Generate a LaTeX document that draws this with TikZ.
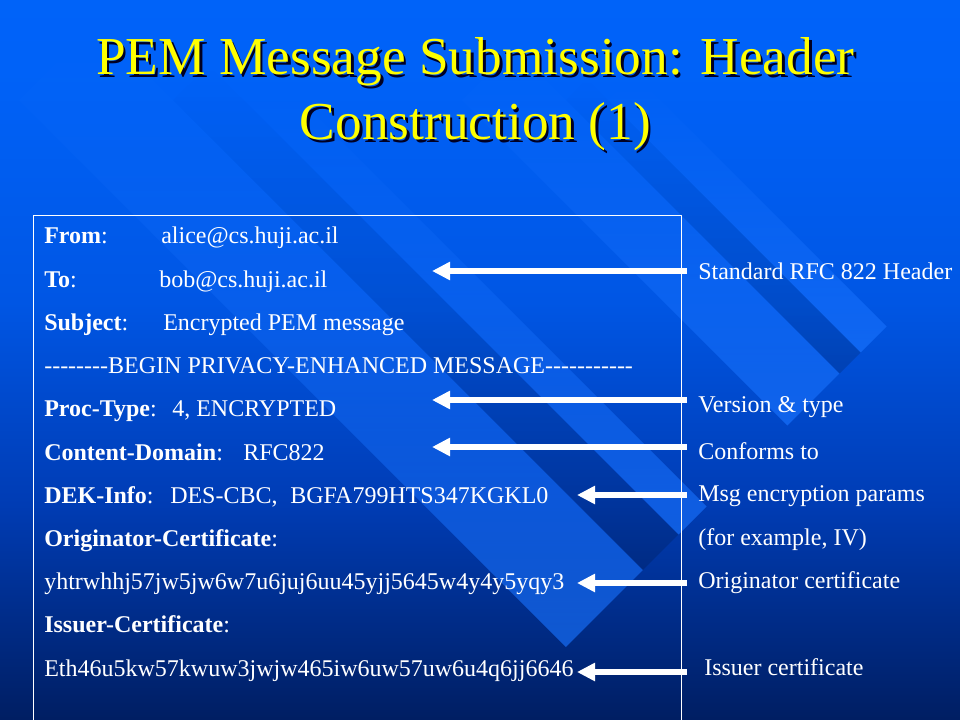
\documentclass[tikz,border=0pt]{standalone}
\usepackage{fontspec}
\setmainfont{Liberation Serif}[Ligatures=TeXOff]
\usetikzlibrary{arrows.meta,fadings}
\definecolor{bgtop}{RGB}{0,102,255}
\definecolor{bgupper}{RGB}{0,98,248}
\definecolor{bgmid}{RGB}{0,86,228}
\definecolor{bglow}{RGB}{0,60,180}
\definecolor{bgdeep}{RGB}{0,24,82}
\definecolor{bgnight}{RGB}{0,8,30}
\definecolor{bgbot}{RGB}{0,1,8}
\definecolor{bandblue}{RGB}{25,115,255}
\definecolor{ttlyellow}{RGB}{255,255,0}
\definecolor{ttldark}{RGB}{0,0,35}
\pgfdeclareverticalshading{slidebg}{100bp}{color(0bp)=(bgbot); color(9bp)=(bgnight); color(22bp)=(bgdeep); color(40bp)=(bglow); color(54bp)=(bgmid); color(70bp)=(bgupper); color(100bp)=(bgtop)}
\tikzfading[name=bandfade, top color=transparent!100, middle color=transparent!50, bottom color=transparent!0]
\newcommand\shadowtitle[1]{\rlap{\hspace{1.9pt}\raisebox{-1.9pt}{\textcolor{ttldark}{#1}}}#1}
\begin{document}
\begin{tikzpicture}[x=0.75pt, y=-0.75pt, line join=round, >={Triangle[length=13.5pt,width=13pt]},
	txt/.style={anchor=base west, inner sep=0pt, text=white, font=\fontsize{18}{21.6}\selectfont},
	lab/.style={anchor=base west, inner xsep=8.25pt, inner ysep=0pt, text=white, font=\fontsize{18}{21.6}\selectfont},
	ttl/.style={anchor=base, inner sep=0pt, text=ttlyellow, font=\fontsize{40}{48}\selectfont},
	arr/.style={->, white, line width=4.5pt}]
		\useasboundingbox (0,0) rectangle (960,720);
		\shade[shading=slidebg] (0,0) rectangle (960,720);
		\def\send{1213}
		\foreach \ca/\cb in {-81/73, 144/200, 362/466, 508/560}{
			\pgfmathsetmacro\stop{200+\ca}
			\fill[bandblue, fill opacity=0.65, path fading=bandfade] ({(\stop+\ca)/2},{(\stop-\ca)/2}) -- ({(\send+\ca)/2},{(\send-\ca)/2}) -- ({(\send+\cb)/2},{(\send-\cb)/2}) -- ({(\stop+\cb)/2},{(\stop-\cb)/2}) -- cycle;}
		\foreach \ca/\cb in {73/144, 466/508}{
			\pgfmathsetmacro\stop{200+\ca}
			\fill[black, fill opacity=0.15, path fading=bandfade] ({(\stop+\ca)/2},{(\stop-\ca)/2}) -- ({(\send+\ca)/2},{(\send-\ca)/2}) -- ({(\send+\cb)/2},{(\send-\cb)/2}) -- ({(\stop+\cb)/2},{(\stop-\cb)/2}) -- cycle;}
		\node[ttl] (title1) at (475.5,75) {\shadowtitle{PEM Message Submission: Header}};
		\node[ttl] (title2) at (475.5,140) {\shadowtitle{Construction (1)}};
		\draw[white, line width=0.75pt] (33,730) |- (681,216) -- (681,730);
		\node[txt] (from) at (44,244) {\makebox[87.75pt][l]{\textbf{From}:}alice@cs.huji.ac.il};
		\node[txt] (to) at (44,287.2) {\makebox[86.25pt][l]{\textbf{To}:}bob@cs.huji.ac.il};
		\node[txt] (subject) at (44,330.4) {\makebox[89.25pt][l]{\textbf{Subject}:}Encrypted PEM message};
		\node[txt] (begin) at (44,373.6) {--------BEGIN PRIVACY-ENHANCED MESSAGE-----------};
		\node[txt] (proctype) at (44,416.8) {\makebox[96pt][l]{\textbf{Proc-Type}:}4, ENCRYPTED};
		\node[txt] (domain) at (44,460) {\makebox[149.25pt][l]{\textbf{Content-Domain}:}RFC822};
		\node[txt] (dekinfo) at (44,503.2) {\makebox[94.5pt][l]{\textbf{DEK-Info}:}\makebox[90pt][l]{DES-CBC,}BGFA799HTS347KGKL0};
		\node[txt] (origkey) at (44,546.4) {\textbf{Originator-Certificate}:};
		\node[txt] (origval) at (44,589.6) {yhtrwhhj57jw5jw6w7u6juj6uu45yjj5645w4y4y5yqy3};
		\node[txt] (issukey) at (44,632.8) {\textbf{Issuer-Certificate}:};
		\node[txt] (issuval) at (44,676) {Eth46u5kw57kwuw3jwjw465iw6uw57uw6u4q6jj6646};
		\coordinate (h1) at (432,271);
		\coordinate (h2) at (432,400);
		\coordinate (h3) at (432,447);
		\coordinate (h4) at (577,495);
		\coordinate (h5) at (577,583);
		\coordinate (h6) at (577,672);
		\node[lab] (lab1) at (687,280) {Standard RFC 822 Header};
		\node[lab] (lab2) at (687,412) {Version \& type};
		\node[lab] (lab3) at (687,459) {Conforms to};
		\node[lab] (lab4) at (687,501) {Msg encryption params};
		\node[lab] (lab4b) at (687,545) {(for example, IV)};
		\node[lab] (lab5) at (687,588) {Originator certificate};
		\node[lab] (lab6) at (687,675) {\ Issuer certificate};
		\foreach \i in {1,...,6}\draw[arr] (lab\i.west |- h\i) -- (h\i);
\end{tikzpicture}
\end{document}
